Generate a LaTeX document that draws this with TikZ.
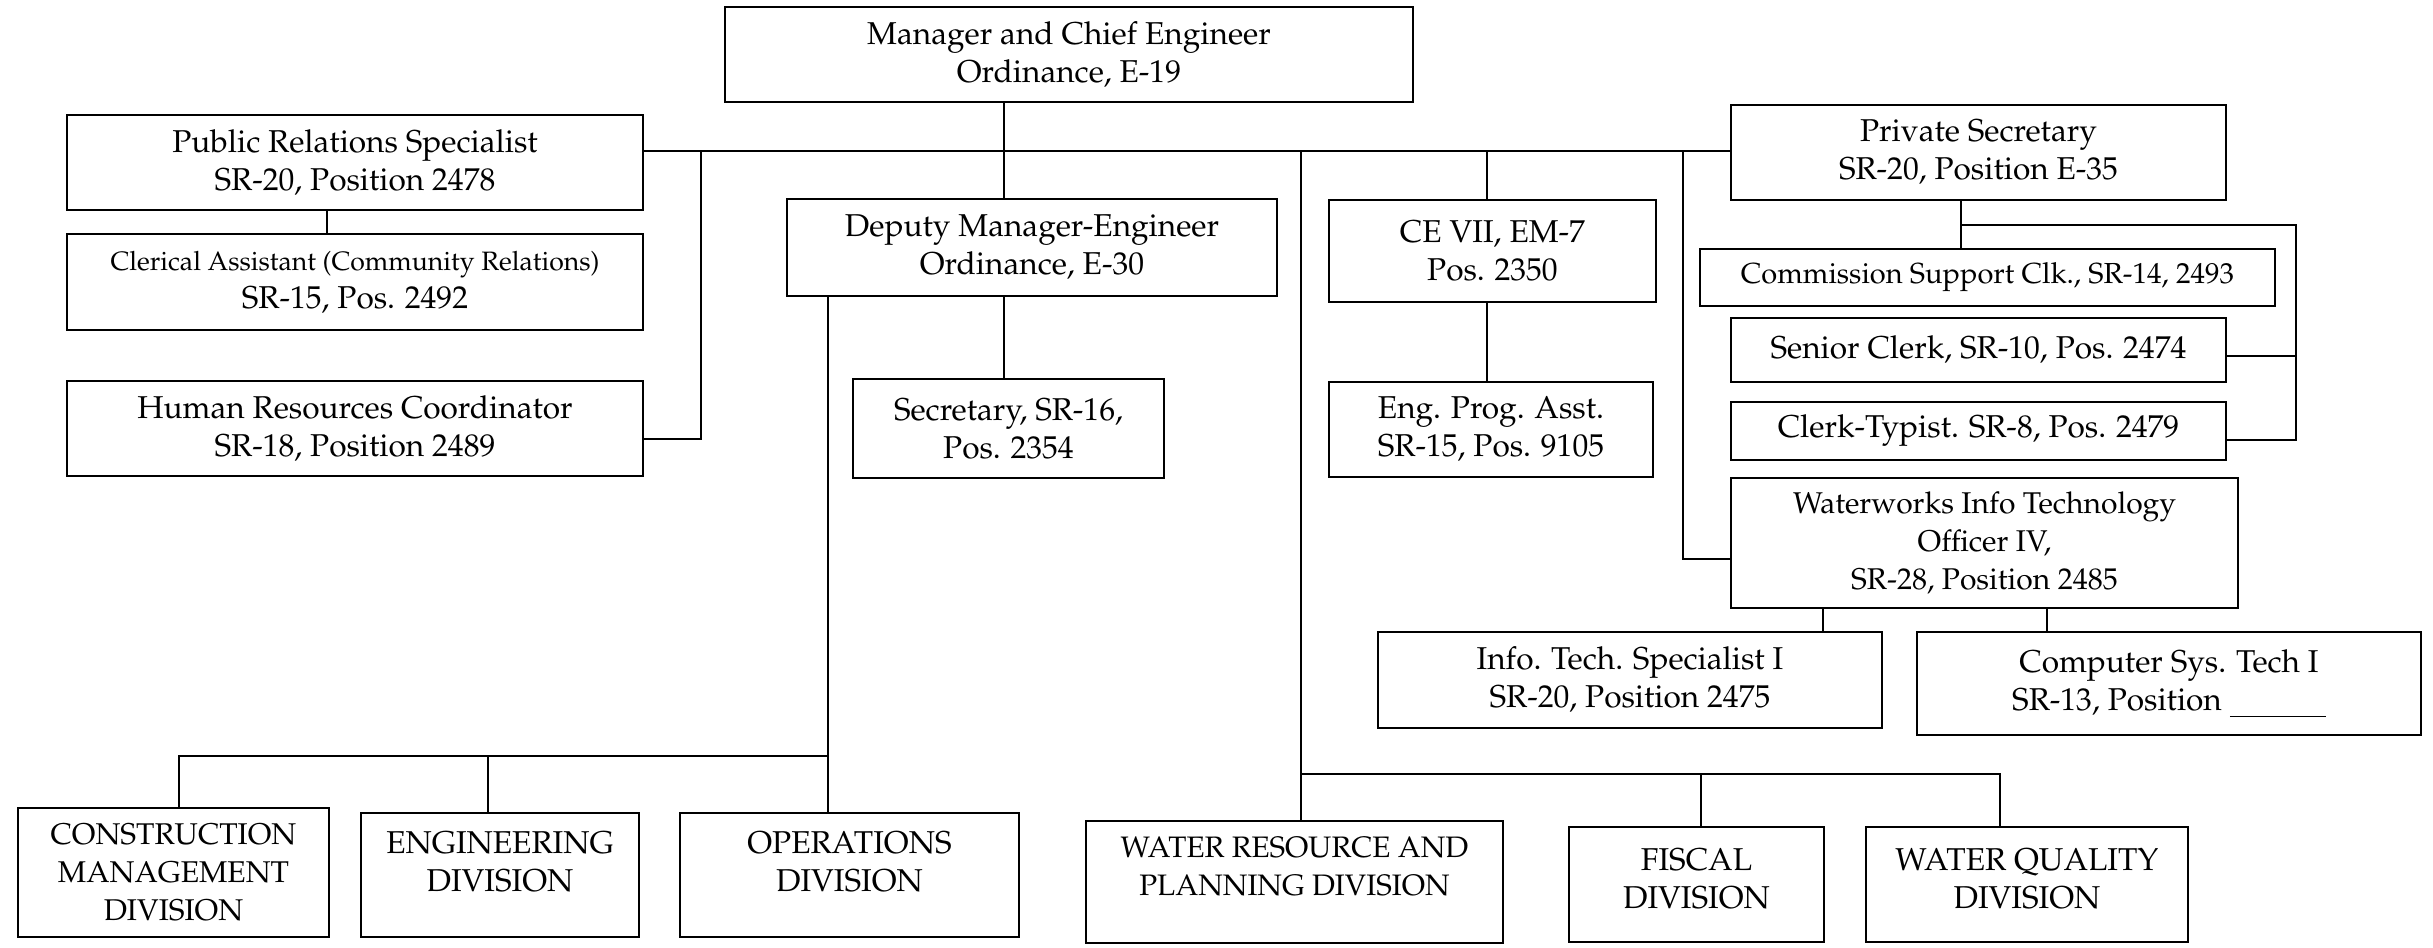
\documentclass[tikz,border=0pt]{standalone}
\usepackage[T1]{fontenc}
\renewcommand{\rmdefault}{ppl}
\newcommand\fs[1]{\fontsize{#1}{19}\selectfont}
\begin{document}
\begin{tikzpicture}[x=0.5pt,y=-0.5pt,
  box/.style={draw=black,line width=1pt,rectangle,inner sep=0pt,fill=white},
  lbl/.style={inner sep=0pt,align=center,font=\fs{15.8}},
  link/.style={draw=black,line width=0.7pt}]
% \orgbox[text shift]{name}{x1}{y1}{x2}{y2}{text}
\newcommand\orgbox[7][0]{%
  \node[box,minimum width={(#5-#3)*0.5pt},minimum height={(#6-#4)*0.5pt}] (#2) at ({(#3+#5)/2},{(#4+#6)/2}) {};
  \node[lbl] (#2-t) at ([yshift={-(#1)*0.5pt}]#2.center) {#7};}
\useasboundingbox[fill=white] (0,0) rectangle (2433,948);

% guide coordinates for the connector lines
\coordinate (mainbus) at (0,151);
\coordinate (leftbus) at (0,756);
\coordinate (rightbus) at (0,774);
\coordinate (xman) at (1004,0);
\coordinate (xhr) at (701,0);
\coordinate (xpr) at (327,0);
\coordinate (xops) at (828,0);
\coordinate (xdiv) at (1301,0);
\coordinate (xce) at (1487,0);
\coordinate (xwit) at (1683,0);
\coordinate (xps) at (1961,0);
\coordinate (xclk) at (2296,0);
\coordinate (xits) at (1823,0);
\coordinate (xcst) at (2047,0);
\coordinate (xcmd) at (179,0);
\coordinate (xengd) at (488,0);
\coordinate (xfis) at (1701,0);
\coordinate (xwq) at (2000,0);
\coordinate (yclk) at (0,225);
\coordinate (ysen) at (0,356);
\coordinate (ytyp) at (0,440);

% connectors (drawn first, boxes sit on top)
\path[link] (643,151) coordinate (busstart) -- (1731,151) coordinate (busend);
\path[link] (xman |- 0,102) coordinate (mantop) -- (xman |- 0,199) coordinate (depin);
\path[link] (xhr |- mainbus) coordinate (hrtop) |- (643,439) coordinate (hrin);
\path[link] (xpr |- 0,210) coordinate (prout) -- (xpr |- 0,234) coordinate (clerin);
\path[link] (xman |- 0,296) coordinate (depout) -- (xman |- 0,379) coordinate (secin);
\path[link] (xops |- 0,296) coordinate (opsout) -- (xops |- 0,813) coordinate (opsin);
\path[link] (xops |- leftbus) coordinate (lbR) -- (xcmd |- leftbus) coordinate (lbL) -- (xcmd |- 0,808) coordinate (cmdin);
\path[link] (xengd |- leftbus) coordinate (engdtop) -- (xengd |- 0,813) coordinate (engdin);
\path[link] (xdiv |- mainbus) coordinate (divtop) -- (xdiv |- 0,821) coordinate (wrpin);
\path[link] (xdiv |- rightbus) coordinate (rbL) -- (xwq |- rightbus) coordinate (rbR) -- (xwq |- 0,827) coordinate (wqin);
\path[link] (xfis |- rightbus) coordinate (fistop) -- (xfis |- 0,827) coordinate (fisin);
\path[link] (xce |- mainbus) coordinate (cetop) -- (xce |- 0,200) coordinate (cein);
\path[link] (xce |- 0,302) coordinate (ceout) -- (xce |- 0,382) coordinate (engin);
\path[link] (xwit |- mainbus) coordinate (wittop) |- (1731,559) coordinate (witin);
\path[link] (xps |- 0,200) coordinate (psout) -- (xps |- 0,249) coordinate (cscin);
\path[link] (xps |- yclk) coordinate (clkL) -| (xclk |- ytyp) coordinate (clkB) -- (2226,440) coordinate (typin);
\path[link] (xclk |- ysen) coordinate (senR) -- (2226,356) coordinate (senin);
\path[link] (xits |- 0,608) coordinate (witout1) -- (xits |- 0,632) coordinate (itsin);
\path[link] (xcst |- 0,608) coordinate (witout2) -- (xcst |- 0,632) coordinate (cstin);

% boxes
\orgbox{man}{725}{7}{1413}{102}{Manager and Chief Engineer\\Ordinance, E-19}
\orgbox{pr}{67}{115}{643}{210}{Public Relations Specialist\\SR-20, Position 2478}
\orgbox{cler}{67}{234}{643}{330}{{\fs{13.3}Clerical Assistant (Community Relations)}\\SR-15, Pos. 2492}
\orgbox{hr}{67}{381}{643}{476}{Human Resources Coordinator\\SR-18, Position 2489}
\orgbox{dep}{787}{199}{1277}{296}{Deputy Manager-Engineer\\Ordinance, E-30}
\orgbox{sec}{853}{379}{1164}{478}{Secretary, SR-16,\\Pos. 2354}
\orgbox{ce}{1329}{200}{1656}{302}{CE VII, EM-7\\Pos. 2350}
\orgbox{eng}{1329}{382}{1653}{477}{Eng. Prog. Asst.\\SR-15, Pos. 9105}
\orgbox{ps}{1731}{105}{2226}{200}{Private Secretary\\SR-20, Position E-35}
\orgbox{csc}{1700}{249}{2275}{306}{\fs{14.5}Commission Support Clk., SR-14, 2493}
\orgbox{sen}{1731}{318}{2226}{382}{Senior Clerk, SR-10, Pos. 2474}
\orgbox{typ}{1731}{402}{2226}{460}{Clerk-Typist. SR-8, Pos. 2479}
\orgbox{wit}{1731}{478}{2238}{608}{\fs{15}Waterworks Info Technology\\\fs{15}Officer IV,\\\fs{15}SR-28, Position 2485}
\orgbox{its}{1378}{632}{1882}{728}{Info. Tech. Specialist I\\SR-20, Position 2475}
\orgbox{cst}{1917}{632}{2421}{735}{Computer Sys. Tech I\\SR-13, Position \rule[-3.5pt]{48pt}{0.6pt}}
\orgbox{cmd}{18}{808}{329}{937}{\fs{15}CONSTRUCTION\\\fs{15}MANAGEMENT\\\fs{15}DIVISION}
\orgbox[-13]{engd}{361}{813}{639}{937}{ENGINEERING\\DIVISION}
\orgbox[-13]{opd}{680}{813}{1019}{937}{OPERATIONS\\DIVISION}
\orgbox[-15]{wrp}{1086}{821}{1503}{943}{\fs{14.8}WATER RESOURCE AND\\\fs{14.8}PLANNING DIVISION}
\orgbox[-6]{fis}{1569}{827}{1824}{942}{FISCAL\\DIVISION}
\orgbox[-6]{wq}{1866}{827}{2188}{942}{WATER QUALITY\\DIVISION}
\end{tikzpicture}
\end{document}
